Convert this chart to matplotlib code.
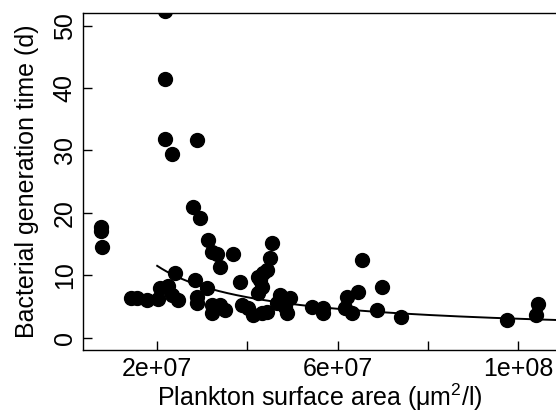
import matplotlib
matplotlib.use("Agg")
import matplotlib.pyplot as plt
import numpy as np

plt.rcParams['font.family'] = ['Liberation Sans', 'DejaVu Sans']
plt.rcParams['mathtext.fontset'] = 'custom'
plt.rcParams['mathtext.rm'] = 'Liberation Sans'
plt.rcParams['mathtext.it'] = 'Liberation Sans:italic'

# plankton surface area (um^2/l), in units of 1e7
area = [0.754, 0.754, 0.777, 1.418, 1.55, 1.77, 2.02, 2.06, 2.24, 2.33,
        2.39, 2.46, 2.17, 2.17, 2.17, 2.88, 2.33, 2.79, 2.94, 2.83,
        2.88, 2.88, 3.10, 3.12, 3.21, 3.32, 3.39, 3.67, 3.21, 3.39,
        3.50, 3.21, 3.83, 3.87, 4.01, 4.12, 4.23, 4.23, 4.27, 4.32,
        4.34, 4.43, 4.49, 4.54, 4.32, 4.43, 4.65, 4.71, 4.83, 4.87,
        4.94, 5.44, 5.67, 5.67, 6.15, 6.31, 6.20, 6.44, 6.53, 6.86,
        6.97, 7.41, 9.76, 10.44, 10.40]
# bacterial generation time (d)
gen_time = [17.7, 17.1, 14.5, 6.35, 6.35, 6.03, 6.19, 7.95, 8.3, 6.8,
            10.3, 6.0, 52.4, 41.4, 31.9, 31.6, 29.4, 21.0, 19.1, 9.2,
            6.5, 5.5, 7.95, 15.6, 13.7, 13.4, 11.3, 13.4, 5.2, 5.2,
            4.4, 3.9, 8.9, 5.2, 4.7, 3.6, 7.1, 9.7, 9.2, 8.1,
            10.3, 10.8, 12.7, 15.1, 3.9, 4.1, 5.5, 6.8, 4.9, 3.9,
            6.35, 4.9, 4.7, 3.9, 4.7, 3.9, 6.5, 7.3, 12.4, 4.4,
            8.1, 3.3, 2.8, 5.4, 3.6]

# power-law fit: y = fit_a * (x / fit_x0) ** fit_b
fit_a = 11.5
fit_x0 = 2e7
fit_b = -0.833
fit_start = 2e7
fit_end = 1.2e8

x = np.array(area) * 1e7
y = np.array(gen_time)

fig = plt.figure(figsize=(5.56, 4.18), dpi=100)
ax = fig.add_axes([82.7 / 556, (418 - 350) / 418, 474 / 556, 336.7 / 418])

ax.plot(x, y, 'o', color='black', ms=10, mec='black')
xf = np.linspace(fit_start, fit_end, 200)
ax.plot(xf, fit_a * (xf / fit_x0) ** fit_b, color='black', lw=1.4)

ax.set_xlim(0.35e7, 1.085e8)
ax.set_ylim(-2, 52)
ax.spines['right'].set_visible(False)

ax.set_xticks([2e7, 4e7, 6e7, 8e7, 1e8])
ax.set_xticklabels(['2e+07', '', '6e+07', '', '1e+08'])
ax.set_yticks([0, 10, 20, 30, 40, 50])
ax.set_yticklabels(['0', '10', '20', '30', '40', '50'], rotation=90, va='center')

ax.tick_params(direction='in', length=6.5, width=1, labelsize=18)
ax.tick_params(axis='x', pad=5)
ax.tick_params(axis='y', pad=4.3)
for s in ax.spines.values():
    s.set_linewidth(1)

ax.set_xlabel('Plankton surface area (μm$^2$/l)', fontsize=18, labelpad=0.5)
ax.set_ylabel('Bacterial generation time (d)', fontsize=18, labelpad=10)

fig.savefig('out.png', dpi=100)
